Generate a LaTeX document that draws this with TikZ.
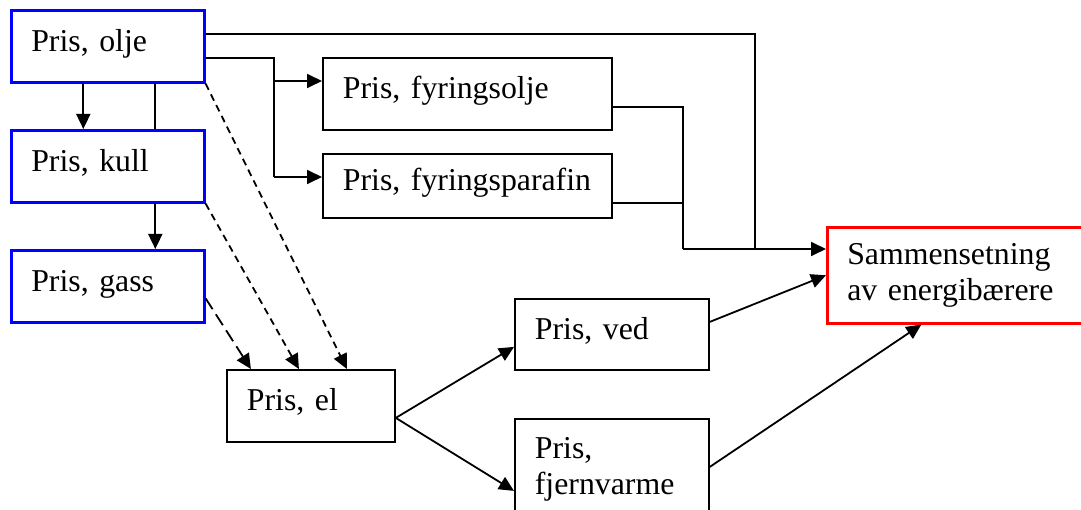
\documentclass[tikz,border=0pt]{standalone}
\usepackage{fontspec}
\setmainfont{Liberation Serif}
\usetikzlibrary{arrows.meta}
\tikzset{
  cell/.style={draw, line width=1.8pt, anchor=north west, align=left,
    inner xsep=20pt, inner ysep=0pt},
  pbox/.style={cell, minimum height=72pt, text height=21pt, text depth=11pt},
  src/.style={pbox, draw=blue, line width=2.6pt},
  arr/.style={line width=1.8pt, -{Triangle[length=15pt,width=14pt]}},
  link/.style={line width=1.8pt},
  fine/.style={dash pattern=on 7pt off 5pt},
  coarse/.style={dash pattern=on 13pt off 6pt}
}
\begin{document}
\begin{tikzpicture}[x=1pt,y=-1pt,font=\fontsize{31.8}{36}\selectfont]
\useasboundingbox (0,0) rectangle (1081,510);
% prices of sources
\node [src, text width=153pt] (olje) at (10,9) {Pris, olje};
\node [src, text width=153pt] (kull) at (10,129) {Pris, kull};
\node [src, text width=153pt] (gass) at (10,249) {Pris, gass};
\node [pbox, text width=249pt] (fyolje) at (322,57) {Pris,~fyringsolje};
\node [pbox, text width=249pt, minimum height=64pt] (fypar) at (322,153) {Pris,~fyringsparafin};
\node [pbox, text width=128pt] (el) at (226,369) {Pris, el};
\node [pbox, text width=154pt, minimum height=71pt] (ved) at (514,298) {Pris, ved};
\node [cell, text width=154pt, minimum height=100pt] (fjern) at (514,418) {Pris,\\fjernvarme};
\node [cell, draw=red, line width=2.6pt, text width=218pt, minimum height=96pt] (samm) at (826,226)
  {Sammensetning\\av energibærere};
\coordinate (j1) at (755,249);
\coordinate (j2) at (274,177);
\coordinate (j3) at (274,81);
\coordinate (j4) at (683,249);
\draw [arr] ([xshift=-24.5pt]olje.south) -- ([xshift=-24.5pt]kull.north);
\draw [link] ([xshift=47.5pt]olje.south) -- ([xshift=47.5pt]kull.north);
\draw [arr] ([xshift=47.5pt]kull.south) -- ([xshift=47.5pt]gass.north);
\draw [link] ([yshift=12pt]olje.east) -| (j1);
\draw [link] ([yshift=-12pt]olje.east) -| (j2);
\draw [arr] (j3) -- (j3 -| fyolje.west);
\draw [arr] (j2) -- (j2 -| fypar.west);
\draw [link] ([yshift=-13pt]fyolje.east) -| (j4);
\draw [link] ([yshift=-17pt]fypar.east) -- ([yshift=-17pt]fypar.east -| j4);
\draw [arr] (j4) -- (j4 -| samm.west);
\draw [arr, fine] (olje.south east) -- ([xshift=36pt]el.north);
\draw [arr, fine] (kull.south east) -- ([xshift=-12pt]el.north);
\draw [arr, coarse] ([yshift=-12pt]gass.east) -- ([xshift=-60pt]el.north);
\draw [arr] ([yshift=-12pt]el.east) -- ([yshift=-12.5pt]ved.west);
\draw [arr] ([yshift=-12pt]el.east) -- ([yshift=-22pt]fjern.west);
\draw [arr] ([yshift=12.5pt]ved.east) -- (samm.west);
\draw [arr] ([yshift=2pt]fjern.east) -- ([xshift=-35pt]samm.south);
\end{tikzpicture}
\end{document}
